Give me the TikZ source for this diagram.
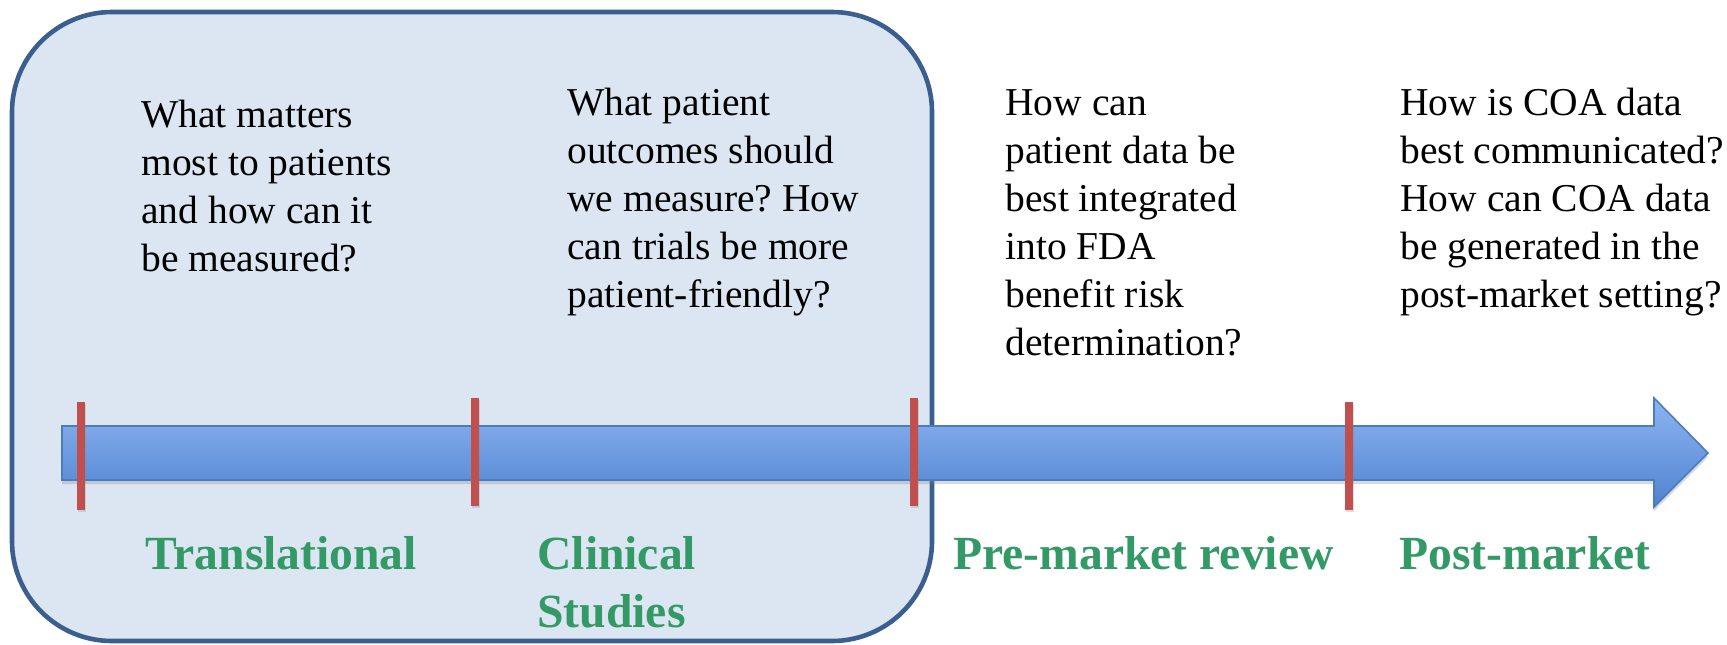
\documentclass[tikz,border=0pt]{standalone}
\usepackage{fontspec}
\setmainfont{Liberation Serif}
\usetikzlibrary{shadows}
\frenchspacing
\definecolor{boxfill}{HTML}{DCE6F2}
\definecolor{boxline}{HTML}{3A5F8E}
\definecolor{arrtop}{HTML}{8EB4F2}
\definecolor{arrbot}{HTML}{4F83CF}
\definecolor{arrline}{HTML}{4A7EBB}
\definecolor{tickred}{HTML}{C0504D}
\definecolor{phase}{HTML}{339966}
\begin{document}
\begin{tikzpicture}[x=0.5pt,y=-0.5pt,
  question/.style={anchor=base west,inner sep=0pt,font=\fontsize{19.75}{24}\selectfont\frenchspacing},
  phaselabel/.style={anchor=base west,inner sep=0pt,text=phase,font=\fontsize{23.8}{29}\selectfont\bfseries},
  tick/.style={rectangle,fill=tickred,inner sep=0pt,minimum width=4pt,minimum height=54pt,
    drop shadow={opacity=0.25,shadow xshift=0.5pt,shadow yshift=-1pt}}]
\useasboundingbox (0,0) rectangle (1727,644);
% rounded region
\draw[boxline,fill=boxfill,line width=2.3pt,rounded corners=50pt] (12,12) rectangle (932,641);
% timeline arrow
\path[drop shadow={opacity=0.3,shadow xshift=0pt,shadow yshift=-2pt}]
  (62,426) -- (1654,426) -- (1654,398) -- (1708,453) -- (1654,507) -- (1654,480) -- (62,480) -- cycle;
\draw[arrline,line width=0.8pt,top color=arrtop,bottom color=arrbot]
  (62,426) -- (1654,426) -- (1654,398) -- (1708,453) -- (1654,507) -- (1654,480) -- (62,480) -- cycle;
% ticks
\node[tick] (t1) at (81,456) {};
\node[tick] (t2) at (475,452) {};
\node[tick] (t3) at (914,452) {};
\node[tick] (t4) at (1349,456) {};
% questions
\node[question] (q1) at (141,127) {\begin{tabular}[t]{@{}l@{}}What matters\\most to patients\\and how can it\\be measured?\end{tabular}};
\node[question] (q2) at (567,115) {\begin{tabular}[t]{@{}l@{}}What patient\\outcomes should\\we measure? How\\can trials be more\\patient-friendly?\end{tabular}};
\node[question] (q3) at (1005,115) {\begin{tabular}[t]{@{}l@{}}How can\\patient data be\\best integrated\\into FDA\\benefit risk\\determination?\end{tabular}};
\node[question] (q4) at (1400,115) {\begin{tabular}[t]{@{}l@{}}How is COA data\\best communicated?\\How can COA data\\be generated in the\\post-market setting?\end{tabular}};
% phase labels
\node[phaselabel] (p1) at (145,569) {Translational};
\node[phaselabel] (p2) at (537,569) {\begin{tabular}[t]{@{}l@{}}Clinical\\Studies\end{tabular}};
\node[phaselabel] (p3) at (953,569) {Pre-market review};
\node[phaselabel] (p4) at (1399,569) {Post-market};
\end{tikzpicture}
\end{document}
